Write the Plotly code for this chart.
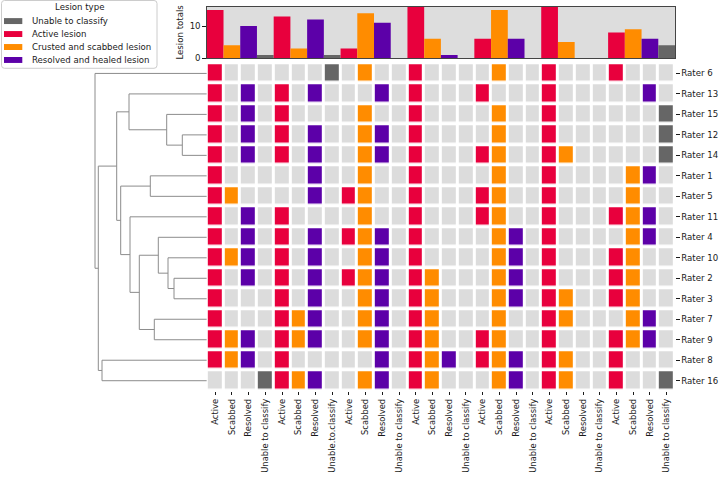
import plotly.graph_objects as go

W, H = 720, 482

# ---------------- data ----------------
raters = ["Rater 6", "Rater 13", "Rater 15", "Rater 12", "Rater 14", "Rater 1",
          "Rater 5", "Rater 11", "Rater 4", "Rater 10", "Rater 2", "Rater 3",
          "Rater 7", "Rater 9", "Rater 8", "Rater 16"]

col_labels = ["Active", "Scabbed", "Resolved", "Unable to classify",
              "Active", "Scabbed", "Resolved", "Unable.to.classify",
              "Active", "Scabbed", "Resolved", "Unable to classify",
              "Active", "Scabbed", "Resolved", "Unable to classify",
              "Active", "Scabbed", "Resolved", "Unable to classify",
              "Active", "Scabbed", "Resolved", "Unable to classify",
              "Active", "Scabbed", "Resolved", "Unable to classify"]

col_types = ["Active", "Scabbed", "Resolved", "Unable"] * 7

# column indices marked by each rater
marked = {
    "Rater 6":  [0, 7, 9, 12, 17, 20, 24],
    "Rater 13": [0, 2, 4, 6, 10, 12, 16, 20, 26],
    "Rater 15": [0, 2, 4, 9, 12, 17, 20, 27],
    "Rater 12": [0, 2, 4, 6, 9, 10, 12, 17, 20, 27],
    "Rater 14": [0, 2, 4, 6, 9, 10, 12, 16, 17, 20, 21, 27],
    "Rater 1":  [0, 6, 9, 12, 17, 20, 25, 26],
    "Rater 5":  [0, 1, 6, 8, 9, 12, 16, 17, 20, 25],
    "Rater 11": [0, 2, 4, 9, 12, 16, 17, 20, 24, 25, 26],
    "Rater 4":  [0, 2, 4, 6, 8, 9, 10, 12, 17, 18, 20, 25, 26],
    "Rater 10": [0, 1, 2, 4, 6, 9, 10, 12, 17, 18, 20, 24, 25],
    "Rater 2":  [0, 2, 4, 6, 8, 9, 10, 12, 13, 17, 18, 20, 24, 25],
    "Rater 3":  [0, 4, 6, 9, 10, 12, 13, 17, 18, 20, 21, 24, 25],
    "Rater 7":  [0, 4, 5, 6, 9, 10, 12, 13, 17, 20, 21, 25, 26],
    "Rater 9":  [0, 1, 2, 4, 5, 6, 9, 10, 12, 13, 16, 17, 20, 24, 25, 26],
    "Rater 8":  [0, 1, 2, 4, 10, 12, 13, 14, 16, 17, 18, 20, 21, 24],
    "Rater 16": [3, 4, 5, 6, 9, 10, 12, 13, 17, 18, 20, 21, 24, 27],
}

# hierarchical clustering merges (child a, child b, height); leaves = row index
merges = [
    (3, 4, 0.245), (10, 11, 0.328), (9, 17, 0.388), (2, 16, 0.401),
    (8, 18, 0.485), (12, 13, 0.525), (5, 6, 0.565), (20, 21, 0.675),
    (7, 23, 0.768), (1, 19, 0.778), (22, 24, 0.861), (25, 26, 0.901),
    (14, 15, 1.048), (27, 28, 1.085), (0, 29, 1.118),
]

legend_labels = ["Unable to classify", "Active lesion",
                 "Crusted and scabbed lesion", "Resolved and healed lesion"]
legend_types = ["Unable", "Active", "Scabbed", "Resolved"]

# ---------------- styles ----------------
colors = {"none": "#dcdcdc", "Unable": "#666666", "Active": "#e8003d",
          "Scabbed": "#ff8c00", "Resolved": "#5c00a8"}
type_code = {"Unable": 1, "Active": 2, "Scabbed": 3, "Resolved": 4}
FONT = "DejaVu Sans"
FS = 8.6
TXT = "#1a1a1a"

ncol = len(col_labels)
nrow = len(raters)

z = [[type_code[col_types[c]] if c in marked[r] else 0 for c in range(ncol)]
     for r in raters]
totals = [sum(1 for r in raters if c in marked[r]) for c in range(ncol)]

# dendrogram coordinates
pos = {i: float(i) for i in range(nrow)}
hgt = {i: 0.0 for i in range(nrow)}
dx, dy = [], []
nid = nrow
for a, b, h in merges:
    dx += [hgt[a], h, h, hgt[b], None]
    dy += [pos[a], pos[a], pos[b], pos[b], None]
    pos[nid] = (pos[a] + pos[b]) / 2
    hgt[nid] = h
    nid += 1


def fx(p):
    return p / W


def fy(p):
    return 1 - p / H


heat_x = [fx(206.8), fx(675.0)]
heat_y = [fy(395.05), fy(63.85)]
bar_y = [fy(58.7), fy(6.7)]
den_x = [fx(60.0), fx(206.8)]

cs = [[0.0, colors["none"]], [0.125, colors["none"]],
      [0.125, colors["Unable"]], [0.375, colors["Unable"]],
      [0.375, colors["Active"]], [0.625, colors["Active"]],
      [0.625, colors["Scabbed"]], [0.875, colors["Scabbed"]],
      [0.875, colors["Resolved"]], [1.0, colors["Resolved"]]]

fig = go.Figure()
fig.add_trace(go.Heatmap(
    x=list(range(ncol)), y=list(range(nrow)), z=z, zmin=0, zmax=4,
    colorscale=cs, showscale=False, xgap=3, ygap=3.6,
    xaxis="x", yaxis="y", hoverinfo="skip"))

fig.add_trace(go.Bar(
    x=list(range(ncol)), y=totals, width=1,
    marker=dict(color=[colors[t] for t in col_types], line=dict(width=0)),
    xaxis="x2", yaxis="y2", showlegend=False))

fig.add_trace(go.Scatter(
    x=dx, y=dy, mode="lines", line=dict(color="#8c8c8c", width=1),
    xaxis="x3", yaxis="y3", showlegend=False, hoverinfo="skip"))

axis_common = dict(showgrid=False, zeroline=False,
                   tickcolor=TXT, ticklen=3.5, tickwidth=0.8)

shapes = [dict(type="rect", xref="x2 domain", yref="y2 domain",
               x0=0, x1=1, y0=0, y1=1, fillcolor="#dddddd",
               line=dict(width=0), layer="below")]

# legend box (rounded)
lx0, lx1, ly0, ly1, rr = 1.5, 157.0, 0.5, 69.0, 3.0
path = (f"M {fx(lx0+rr)},{fy(ly0)} L {fx(lx1-rr)},{fy(ly0)} "
        f"Q {fx(lx1)},{fy(ly0)} {fx(lx1)},{fy(ly0+rr)} "
        f"L {fx(lx1)},{fy(ly1-rr)} Q {fx(lx1)},{fy(ly1)} {fx(lx1-rr)},{fy(ly1)} "
        f"L {fx(lx0+rr)},{fy(ly1)} Q {fx(lx0)},{fy(ly1)} {fx(lx0)},{fy(ly1-rr)} "
        f"L {fx(lx0)},{fy(ly0+rr)} Q {fx(lx0)},{fy(ly0)} {fx(lx0+rr)},{fy(ly0)} Z")
shapes.append(dict(type="path", xref="paper", yref="paper", path=path,
                   fillcolor="rgba(255,255,255,0.85)",
                   line=dict(color="#cccccc", width=1)))

annotations = [dict(text="Lesion type", xref="paper", yref="paper",
                    x=fx(79), y=fy(7.5), xanchor="center", yanchor="middle",
                    showarrow=False, font=dict(family=FONT, size=FS, color=TXT))]
for i, (lab, t) in enumerate(zip(legend_labels, legend_types)):
    yc = 21.3 + i * 13.1
    shapes.append(dict(type="rect", xref="paper", yref="paper",
                       x0=fx(4), x1=fx(22.3), y0=fy(yc - 3), y1=fy(yc + 3),
                       fillcolor=colors[t], line=dict(width=0)))
    annotations.append(dict(text=lab, xref="paper", yref="paper",
                            x=fx(29.5), y=fy(yc), xanchor="left", yanchor="middle",
                            showarrow=False,
                            font=dict(family=FONT, size=FS, color=TXT)))

fig.update_layout(
    width=W, height=H, margin=dict(l=0, r=0, t=0, b=0),
    paper_bgcolor="white", plot_bgcolor="white", showlegend=False,
    font=dict(family=FONT, size=FS, color=TXT),
    xaxis=dict(domain=heat_x, anchor="y", range=[-0.5, ncol - 0.5],
               tickmode="array", tickvals=list(range(ncol)), ticktext=col_labels,
               tickangle=-90, ticks="outside", showline=False,
               tickfont=dict(family=FONT, size=8.4, color=TXT), **axis_common),
    yaxis=dict(domain=heat_y, anchor="x", range=[nrow - 0.5, -0.5],
               tickmode="array", tickvals=list(range(nrow)), ticktext=raters,
               side="right", ticks="outside", showline=False,
               tickfont=dict(family=FONT, size=FS, color=TXT), **axis_common),
    xaxis2=dict(domain=heat_x, anchor="y2", range=[-0.5, ncol - 0.5],
                showticklabels=False, ticks="", showline=True, mirror=True,
                linecolor="#444444", linewidth=1, showgrid=False, zeroline=False),
    yaxis2=dict(domain=bar_y, anchor="x2", range=[0, 16.05],
                tickmode="array", tickvals=[0, 10], ticks="outside",
                showline=True, mirror=True, linecolor="#444444", linewidth=1,
                tickfont=dict(family=FONT, size=FS, color=TXT),
                title=dict(text="Lesion totals", standoff=4,
                           font=dict(family=FONT, size=FS, color=TXT)),
                **axis_common),
    xaxis3=dict(domain=den_x, anchor="y3", range=[1.468, 0], visible=False),
    yaxis3=dict(domain=heat_y, anchor="x3", range=[nrow - 0.5, -0.5], visible=False),
    shapes=shapes, annotations=annotations,
)

fig.write_html("out.html", config={"displayModeBar": False},
               post_script="document.body.style.margin='0px';")
